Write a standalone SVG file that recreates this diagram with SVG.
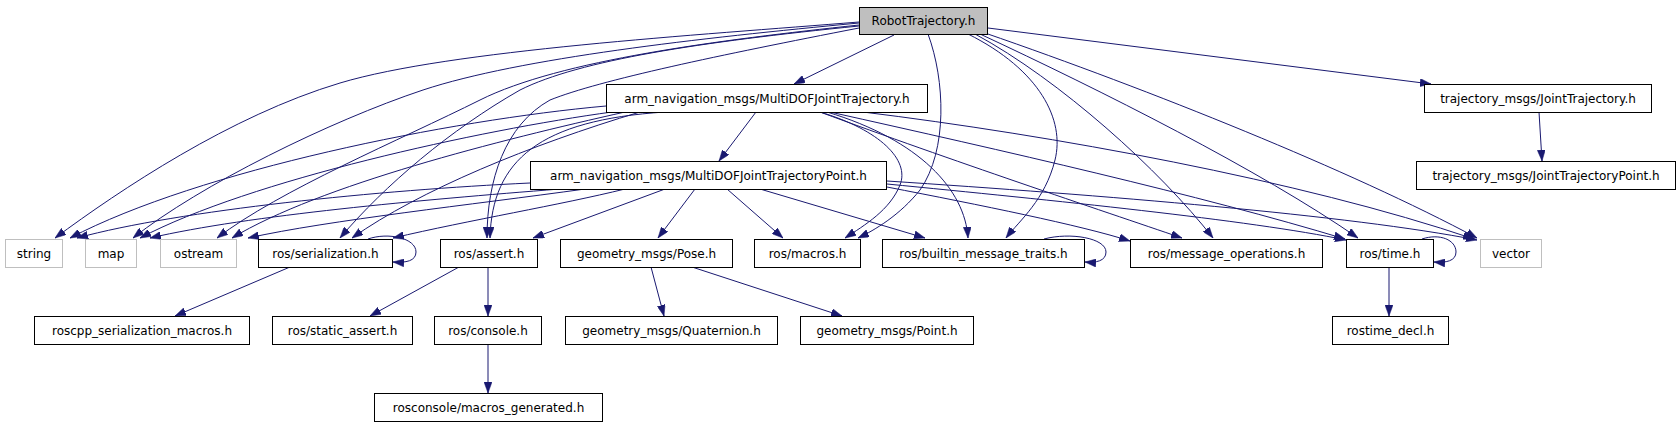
<svg xmlns="http://www.w3.org/2000/svg" width="1680" height="427" viewBox="0 0 1680 427">
<style>
.n rect{fill:#fff;stroke:#000;stroke-width:1}
.g rect{fill:#fff;stroke:#bfbfbf;stroke-width:1}
.root rect{fill:#bfbfbf;stroke:#000;stroke-width:1}
text{font-family:"DejaVu Sans",sans-serif;font-size:12px;fill:#000;text-anchor:middle}
#connectors path{fill:none;stroke:#191970;stroke-width:1;marker-end:url(#ah)}
</style>
<defs>
<marker id="ah" viewBox="0 0 11 8" refX="11" refY="4" markerWidth="11" markerHeight="8" markerUnits="userSpaceOnUse" orient="auto">
<path d="M0,0 L11,4 L0,8 z" fill="#191970" stroke="#191970" stroke-width="0.5"/>
</marker>
</defs>
<rect width="1680" height="427" fill="#fff"/>
<g id="connectors">
<path d="M894,35 L794,84"/>
<path d="M988,28 L1431,84"/>
<path d="M859,22 C700,35 450,50 340,83 C230,116 120,190 55,238"/>
<path d="M859,23 C700,38 520,58 423,90 C330,121 200,185 133,238"/>
<path d="M859,25 C720,40 560,60 480,100 C400,140 280,190 217,238"/>
<path d="M859,26 C700,42 580,60 520,90 C450,130 385,185 340,238"/>
<path d="M859,28 C720,55 600,80 550,100 C505,125 487,180 487,238"/>
<path d="M928,34 C945,80 948,150 920,190 C900,215 875,230 858,238"/>
<path d="M968,34 C1040,70 1065,120 1055,160 C1045,200 1020,220 1006,238"/>
<path d="M975,34 C1060,80 1160,170 1213,238"/>
<path d="M980,34 C1100,90 1260,170 1358,238"/>
<path d="M985,33 C1150,90 1350,170 1477,238"/>
<path d="M756,112 L719,161"/>
<path d="M606,106 C450,120 200,170 70,238"/>
<path d="M612,112 C480,130 250,180 140,238"/>
<path d="M625,112 C500,140 320,185 232,238"/>
<path d="M640,112 C530,145 420,190 352,238"/>
<path d="M665,112 C540,120 492,160 490,238"/>
<path d="M820,112 C880,130 910,160 900,185 C890,210 865,225 845,238"/>
<path d="M827,112 C920,140 965,190 968,238"/>
<path d="M820,112 C950,160 1100,210 1182,238"/>
<path d="M830,112 C1000,150 1200,195 1345,239"/>
<path d="M863,112 C1050,135 1300,180 1474,239"/>
<path d="M530,183 C380,190 180,210 77,238"/>
<path d="M560,189 C420,200 250,215 150,238"/>
<path d="M585,189 C470,205 330,220 248,238"/>
<path d="M625,189 C560,205 470,220 393,238"/>
<path d="M665,189 L533,238"/>
<path d="M695,189 L658,238"/>
<path d="M727,189 L783,238"/>
<path d="M760,189 L925,238"/>
<path d="M887,187 C980,205 1080,225 1130,241"/>
<path d="M887,184 C1050,200 1250,220 1346,240"/>
<path d="M887,181 C1100,195 1350,215 1477,240"/>
<path d="M1539,112 L1542,161"/>
<path d="M368,239 C388,232 416,238 416,252 C416,261 406,263 393,262"/>
<path d="M290,267 L175,316"/>
<path d="M459,267 L370,316"/>
<path d="M488,267 L488,316"/>
<path d="M488,344 L488,393"/>
<path d="M651,267 L664,316"/>
<path d="M692,267 L842,316"/>
<path d="M1044,239 C1070,232 1106,238 1106,252 C1106,261 1096,263 1085,262"/>
<path d="M1422,239 C1440,233 1456,240 1456,252 C1456,261 1446,263 1434,262"/>
<path d="M1389,267 L1389,316"/>
</g>
<g id="RobotTrajectory" class="root"><rect x="859.5" y="7.5" width="128" height="27"/><text x="923.5" y="25">RobotTrajectory.h</text></g>
<g id="MultiDOFJointTrajectory" class="n"><rect x="606.5" y="84.5" width="321" height="28"/><text x="767" y="103">arm_navigation_msgs/MultiDOFJointTrajectory.h</text></g>
<g id="JointTrajectory" class="n"><rect x="1424.5" y="84.5" width="227" height="28"/><text x="1538" y="103">trajectory_msgs/JointTrajectory.h</text></g>
<g id="MultiDOFJointTrajectoryPoint" class="n"><rect x="530.5" y="161.5" width="356" height="28"/><text x="708.5" y="180">arm_navigation_msgs/MultiDOFJointTrajectoryPoint.h</text></g>
<g id="JointTrajectoryPoint" class="n"><rect x="1416.5" y="161.5" width="259" height="28"/><text x="1546" y="180">trajectory_msgs/JointTrajectoryPoint.h</text></g>
<g id="string" class="g"><rect x="5.5" y="239.5" width="57" height="28"/><text x="34" y="258">string</text></g>
<g id="map" class="g"><rect x="85.5" y="239.5" width="51" height="28"/><text x="111" y="258">map</text></g>
<g id="ostream" class="g"><rect x="160.5" y="239.5" width="76" height="28"/><text x="198.5" y="258">ostream</text></g>
<g id="serialization" class="n"><rect x="258.5" y="239.5" width="134" height="28"/><text x="325.5" y="258">ros/serialization.h</text></g>
<g id="assert" class="n"><rect x="440.5" y="239.5" width="97" height="28"/><text x="489" y="258">ros/assert.h</text></g>
<g id="Pose" class="n"><rect x="560.5" y="239.5" width="172" height="28"/><text x="646.5" y="258">geometry_msgs/Pose.h</text></g>
<g id="macros" class="n"><rect x="754.5" y="239.5" width="106" height="28"/><text x="807.5" y="258">ros/macros.h</text></g>
<g id="builtin_message_traits" class="n"><rect x="882.5" y="239.5" width="202" height="28"/><text x="983.5" y="258">ros/builtin_message_traits.h</text></g>
<g id="message_operations" class="n"><rect x="1130.5" y="239.5" width="192" height="28"/><text x="1226.5" y="258">ros/message_operations.h</text></g>
<g id="time" class="n"><rect x="1346.5" y="239.5" width="87" height="28"/><text x="1390" y="258">ros/time.h</text></g>
<g id="vector" class="g"><rect x="1480.5" y="239.5" width="61" height="28"/><text x="1511" y="258">vector</text></g>
<g id="roscpp_serialization_macros" class="n"><rect x="34.5" y="316.5" width="215" height="28"/><text x="142" y="335">roscpp_serialization_macros.h</text></g>
<g id="static_assert" class="n"><rect x="272.5" y="316.5" width="140" height="28"/><text x="342.5" y="335">ros/static_assert.h</text></g>
<g id="console" class="n"><rect x="434.5" y="316.5" width="107" height="28"/><text x="488" y="335">ros/console.h</text></g>
<g id="Quaternion" class="n"><rect x="565.5" y="316.5" width="212" height="28"/><text x="671.5" y="335">geometry_msgs/Quaternion.h</text></g>
<g id="Point" class="n"><rect x="800.5" y="316.5" width="173" height="28"/><text x="887" y="335">geometry_msgs/Point.h</text></g>
<g id="rostime_decl" class="n"><rect x="1332.5" y="316.5" width="116" height="28"/><text x="1390.5" y="335">rostime_decl.h</text></g>
<g id="macros_generated" class="n"><rect x="374.5" y="393.5" width="228" height="28"/><text x="488.5" y="412">rosconsole/macros_generated.h</text></g>
</svg>
